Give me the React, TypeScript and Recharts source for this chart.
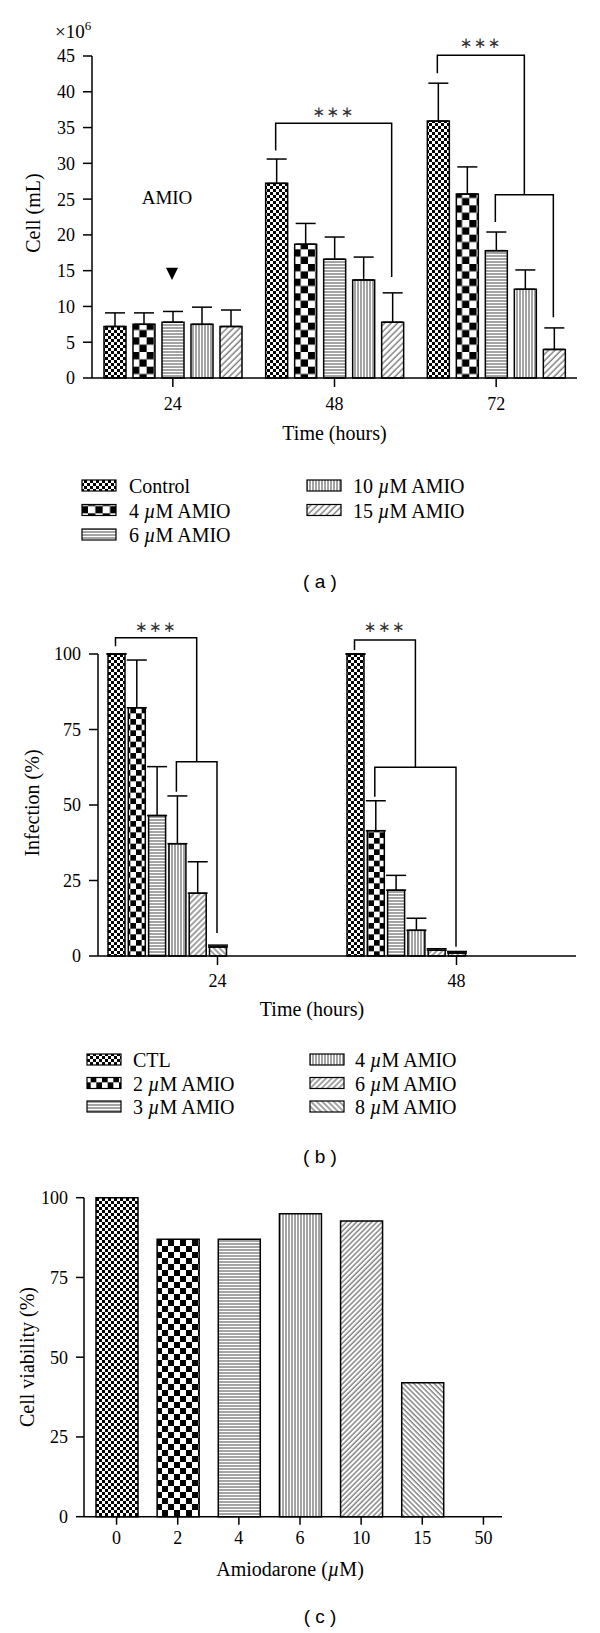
import React from 'react';
import { BarChart, Bar, XAxis, YAxis, ErrorBar, Cell } from 'recharts';

const SERIF = '"Liberation Serif", "Times New Roman", serif';
const SANS = '"Liberation Sans", Arial, sans-serif';
const STAR = '"DejaVu Sans", sans-serif';

// (a) cell density, x10^6 per mL
const timesA = ['24', '48', '72'];
const labelsA = ['Control', '4 µM AMIO', '6 µM AMIO', '10 µM AMIO', '15 µM AMIO'];
const controlA = [7.2, 27.2, 35.9];
const amio4A = [7.5, 18.7, 25.7];
const amio6A = [7.8, 16.6, 17.8];
const amio10A = [7.5, 13.7, 12.4];
const amio15A = [7.2, 7.8, 4.0];
const controlErrA = [1.9, 3.4, 5.3];
const amio4ErrA = [1.6, 2.9, 3.8];
const amio6ErrA = [1.5, 3.1, 2.6];
const amio10ErrA = [2.4, 3.2, 2.7];
const amio15ErrA = [2.3, 4.1, 3.0];
const ticksA = [0, 5, 10, 15, 20, 25, 30, 35, 40, 45];

// (b) infection %
const timesB = ['24', '48'];
const labelsB = ['CTL', '2 µM AMIO', '3 µM AMIO', '4 µM AMIO', '6 µM AMIO', '8 µM AMIO'];
const ctlB = [100, 100];
const amio2B = [82.2, 41.5];
const amio3B = [46.5, 21.8];
const amio4B = [37.2, 8.5];
const amio6B = [20.8, 1.9];
const amio8B = [3.0, 1.0];
const ctlErrB = [0, 0];
const amio2ErrB = [15.8, 9.9];
const amio3ErrB = [16.2, 4.9];
const amio4ErrB = [15.8, 4.0];
const amio6ErrB = [10.4, 0.5];
const amio8ErrB = [0.6, 0.5];
const ticksB = [0, 25, 50, 75, 100];

// (c) viability %
const dosesC = ['0', '2', '4', '6', '10', '15', '50'];
const viabilityC = [100, 87, 87, 95, 92.7, 42, 0];
const ticksC = [0, 25, 50, 75, 100];

const valuesA = [controlA, amio4A, amio6A, amio10A, amio15A];
const errorsA = [controlErrA, amio4ErrA, amio6ErrA, amio10ErrA, amio15ErrA];
const valuesB = [ctlB, amio2B, amio3B, amio4B, amio6B, amio8B];
const errorsB = [ctlErrB, amio2ErrB, amio3ErrB, amio4ErrB, amio6ErrB, amio8ErrB];

const rowsA = timesA.map((t, i) => {
  const r: any = { time: t };
  valuesA.forEach((v, k) => { r['s' + k] = v[i]; r['e' + k] = [0, errorsA[k][i]]; });
  return r;
});
const rowsB = timesB.map((t, i) => {
  const r: any = { time: t };
  valuesB.forEach((v, k) => { r['s' + k] = v[i]; r['e' + k] = [0, errorsB[k][i]]; });
  return r;
});
const rowsC = dosesC.map((d, i) => ({ dose: d, v: viabilityC[i] }));

const kindsA = ['fine', 'check', 'hl', 'vl', 'diag'];
const kindsB = ['fine', 'check', 'hl', 'vl', 'diag', 'back'];
const kindsC = ['fine', 'check', 'hl', 'vl', 'diag', 'back', 'back'];

type Cfg = {
  chartTop: number; chartH: number; top: number; left: number; width: number; height: number;
  yMax: number; nCats: number; nBars: number; barSize: number; barGap: number; padL: number; padR: number;
};

const cfgA: Cfg = { chartTop: 0, chartH: 450, top: 56, left: 92, width: 485, height: 322, yMax: 45, nCats: 3, nBars: 5, barSize: 22, barGap: 7, padL: 0, padR: 0 };
const cfgB: Cfg = { chartTop: 600, chartH: 400, top: 654, left: 98, width: 478, height: 302, yMax: 100, nCats: 2, nBars: 11, barSize: 17, barGap: 3.3, padL: 0, padR: 0 };
const cfgC: Cfg = { chartTop: 1180, chartH: 400, top: 1197.7, left: 84, width: 418, height: 319, yMax: 100, nCats: 7, nBars: 1, barSize: 42, barGap: 0, padL: 2, padR: -12 };

const Y_W = 60;
const X_H = 40;
const marginOf = (c: Cfg) => ({
  top: c.top - c.chartTop,
  left: c.left - Y_W,
  right: 600 - c.left - c.width,
  bottom: c.chartH - (c.top - c.chartTop + c.height) - X_H,
});

// page coords for overlay annotations, same geometry Recharts uses
const yPx = (c: Cfg, v: number) => c.top + c.height * (1 - v / c.yMax);
const barCx = (c: Cfg, g: number, j: number) => {
  const band = (c.width - c.padL - c.padR) / c.nCats;
  const sum = c.nBars * c.barSize + (c.nBars - 1) * c.barGap;
  const off = Math.trunc((band - sum) / 2);
  return c.left + c.padL + band * g + off + j * (c.barSize + c.barGap) + c.barSize / 2;
};

const Patterns = ({ p, check, diag }: { p: string; check: number; diag: number }) => (
  <defs>
    <pattern id={`${p}-fine`} width={6} height={6} patternUnits="userSpaceOnUse">
      <rect width={6} height={6} fill="#fff" />
      <rect width={3} height={3} fill="#000" />
      <rect x={3} y={3} width={3} height={3} fill="#000" />
    </pattern>
    <pattern id={`${p}-check`} width={check * 2} height={check * 2} patternUnits="userSpaceOnUse">
      <rect width={check * 2} height={check * 2} fill="#fff" />
      <rect width={check} height={check} fill="#000" />
      <rect x={check} y={check} width={check} height={check} fill="#000" />
    </pattern>
    <pattern id={`${p}-hl`} width={6} height={3} patternUnits="userSpaceOnUse">
      <rect width={6} height={3} fill="#fff" />
      <line x1={0} y1={1} x2={6} y2={1} stroke="#333" strokeWidth={0.9} />
    </pattern>
    <pattern id={`${p}-vl`} width={3} height={6} patternUnits="userSpaceOnUse">
      <rect width={3} height={6} fill="#fff" />
      <line x1={1} y1={0} x2={1} y2={6} stroke="#333" strokeWidth={0.9} />
    </pattern>
    <pattern id={`${p}-diag`} width={diag} height={diag} patternUnits="userSpaceOnUse" patternTransform="rotate(45)">
      <rect width={diag} height={diag} fill="#fff" />
      <line x1={1} y1={0} x2={1} y2={diag} stroke="#333" strokeWidth={0.9} />
    </pattern>
    <pattern id={`${p}-back`} width={diag} height={diag} patternUnits="userSpaceOnUse" patternTransform="rotate(-45)">
      <rect width={diag} height={diag} fill="#fff" />
      <line x1={1} y1={0} x2={1} y2={diag} stroke="#333" strokeWidth={0.9} />
    </pattern>
  </defs>
);

const axisLine = { stroke: '#000', strokeWidth: 1.5 };
const tickLine = { stroke: '#000', strokeWidth: 1.5 };
const tickFont = { fill: '#000', fontSize: 18, fontFamily: SERIF };

const MuText = ({ s }: { s: string }) => {
  const i = s.indexOf('µ');
  if (i < 0) return <>{s}</>;
  return (
    <>
      {s.slice(0, i)}
      <tspan fontStyle="italic">µ</tspan>
      {s.slice(i + 1)}
    </>
  );
};

type Br = {
  g: number; left: number; leftEnd: number; top: number; starY: number;
  right?: number; rightEnd?: number;
  sub?: { from: number; fromEnd: number; to: number; toEnd: number; y: number };
};

const bracketsA: Br[] = [
  { g: 1, left: 0, leftEnd: 31.8, top: 35.6, right: 4, rightEnd: 14.1, starY: 37.2 },
  { g: 2, left: 0, leftEnd: 42.6, top: 45.1, sub: { from: 2, fromEnd: 21.8, to: 4, toEnd: 8.5, y: 25.6 }, starY: 46.8 },
];
const bracketsB: Br[] = [
  { g: 0, left: 0, leftEnd: 102.6, top: 105.4, sub: { from: 3, fromEnd: 54.4, to: 5, toEnd: 7.6, y: 64.3 }, starY: 108.9 },
  { g: 1, left: 0, leftEnd: 101.3, top: 104.6, sub: { from: 1, fromEnd: 52.7, to: 5, toEnd: 3.1, y: 62.5 }, starY: 108.9 },
];

const Brackets = ({ c, list }: { c: Cfg; list: Br[] }) => (
  <g stroke="#000" strokeWidth={1.5} fill="none">
    {list.map((b, i) => {
      const xl = barCx(c, b.g, b.left);
      let xr: number;
      let yr: number;
      let subPath = '';
      if (b.sub) {
        const x1 = barCx(c, b.g, b.sub.from);
        const x2 = barCx(c, b.g, b.sub.to);
        xr = (x1 + x2) / 2;
        yr = yPx(c, b.sub.y);
        subPath = `M${x1},${yPx(c, b.sub.fromEnd)} V${yr} H${x2} V${yPx(c, b.sub.toEnd)}`;
      } else {
        xr = barCx(c, b.g, b.right as number);
        yr = yPx(c, b.rightEnd as number);
      }
      return (
        <g key={i}>
          <path d={`M${xl},${yPx(c, b.leftEnd)} V${yPx(c, b.top)} H${xr} V${yr}`} />
          {subPath && <path d={subPath} />}
          <text x={(xl + xr) / 2} y={yPx(c, b.starY)} textAnchor="middle" dominantBaseline="central"
            fontFamily={STAR} fontSize={15} letterSpacing={1.5} fill="#333" stroke="none">
            ∗∗∗
          </text>
        </g>
      );
    })}
  </g>
);

const LegendCol = ({ p, kinds, labels, idx, sx, tx, rows }: any) => (
  <g>
    {idx.map((k: number, r: number) => (
      <g key={k}>
        <rect x={sx} y={rows[r] - 13} width={34} height={11} fill={`url(#${p}-${kinds[k]})`} stroke="#000" strokeWidth={1.2} />
        <text x={tx} y={rows[r]} fontFamily={SERIF} fontSize={20} fill="#000">
          <MuText s={labels[k]} />
        </text>
      </g>
    ))}
  </g>
);

const Overlay = () => {
  const amioX = barCx(cfgA, 0, 2);
  return (
    <svg width={600} height={1633} style={{ position: 'absolute', left: 0, top: 0, pointerEvents: 'none' }}>
      {/* (a) */}
      <text x={55} y={38} fontFamily={SERIF} fontSize={19} fill="#000">×10<tspan dy={-8} fontSize={13}>6</tspan></text>
      <text x={33} y={213} transform="rotate(-90 33 213)" textAnchor="middle" dominantBaseline="central" fontFamily={SERIF} fontSize={20}>Cell (mL)</text>
      <text x={cfgA.left + cfgA.width / 2} y={440} textAnchor="middle" fontFamily={SERIF} fontSize={20}>Time (hours)</text>
      <text x={amioX - 5} y={yPx(cfgA, 24.3)} textAnchor="middle" fontFamily={SERIF} fontSize={19}>AMIO</text>
      <polygon
        points={`${amioX - 6},${yPx(cfgA, 15.4)} ${amioX + 6},${yPx(cfgA, 15.4)} ${amioX},${yPx(cfgA, 13.7)}`}
        fill="#000"
      />
      <Brackets c={cfgA} list={bracketsA} />
      <LegendCol p="a" kinds={kindsA} labels={labelsA} idx={[0, 1, 2]} sx={82} tx={129} rows={[493, 517.5, 542]} />
      <LegendCol p="a" kinds={kindsA} labels={labelsA} idx={[3, 4]} sx={307} tx={353} rows={[493, 517.5]} />
      <text x={320} y={588} textAnchor="middle" fontFamily={SANS} fontSize={19}>( a )</text>

      {/* (b) */}
      <text x={32} y={803} transform="rotate(-90 32 803)" textAnchor="middle" dominantBaseline="central" fontFamily={SERIF} fontSize={20}>Infection (%)</text>
      <text x={312} y={1016} textAnchor="middle" fontFamily={SERIF} fontSize={20}>Time (hours)</text>
      <Brackets c={cfgB} list={bracketsB} />
      <LegendCol p="b" kinds={kindsB} labels={labelsB} idx={[0, 1, 2]} sx={87} tx={133} rows={[1067, 1090.5, 1114]} />
      <LegendCol p="b" kinds={kindsB} labels={labelsB} idx={[3, 4, 5]} sx={310} tx={355} rows={[1067, 1090.5, 1114]} />
      <text x={320} y={1163} textAnchor="middle" fontFamily={SANS} fontSize={19}>( b )</text>

      {/* (c) */}
      <text x={27} y={1357} transform="rotate(-90 27 1357)" textAnchor="middle" dominantBaseline="central" fontFamily={SERIF} fontSize={20}>Cell viability (%)</text>
      <text x={290} y={1576} textAnchor="middle" fontFamily={SERIF} fontSize={20}>
        Amiodarone (<tspan fontStyle="italic">µ</tspan>M)
      </text>
      <text x={320} y={1623} textAnchor="middle" fontFamily={SANS} fontSize={19}>( c )</text>
    </svg>
  );
};

const pads = [0, 1, 2, 3, 4];

export default function App() {
  return (
    <div style={{ position: 'absolute', left: 0, top: 0, width: 600, height: 1633, background: '#fff' }}>
      <div style={{ position: 'absolute', left: 0, top: cfgA.chartTop }}>
        <BarChart width={600} height={cfgA.chartH} data={rowsA} margin={marginOf(cfgA)} barSize={cfgA.barSize} barGap={cfgA.barGap}>
          <Patterns p="a" check={22 / 3} diag={4.5} />
          <XAxis dataKey="time" axisLine={axisLine} tickLine={tickLine} tickSize={9} tickMargin={10} height={X_H} tick={tickFont} />
          <YAxis domain={[0, 45]} ticks={ticksA} axisLine={axisLine} tickLine={tickLine} tickSize={9} tickMargin={8} width={Y_W} tick={tickFont} />
          {labelsA.map((name, k) => (
            <Bar key={name} dataKey={'s' + k} name={name} fill={`url(#a-${kindsA[k]})`} stroke="#000" strokeWidth={1.5} isAnimationActive={false}>
              <ErrorBar dataKey={'e' + k} width={10} stroke="#000" strokeWidth={1.5} isAnimationActive={false} />
            </Bar>
          ))}
        </BarChart>
      </div>

      <div style={{ position: 'absolute', left: 0, top: cfgB.chartTop }}>
        <BarChart width={600} height={cfgB.chartH} data={rowsB} margin={marginOf(cfgB)} barSize={cfgB.barSize} barGap={cfgB.barGap}>
          <Patterns p="b" check={17 / 3} diag={4} />
          <XAxis dataKey="time" axisLine={axisLine} tickLine={tickLine} tickSize={9} tickMargin={9} height={X_H} tick={tickFont} />
          <YAxis domain={[0, 100]} ticks={ticksB} axisLine={axisLine} tickLine={tickLine} tickSize={9} tickMargin={8} width={Y_W} tick={tickFont} />
          {labelsB.map((name, k) => (
            <Bar key={name} dataKey={'s' + k} name={name} fill={`url(#b-${kindsB[k]})`} stroke="#000" strokeWidth={1.5} isAnimationActive={false}>
              <ErrorBar dataKey={'e' + k} width={10} stroke="#000" strokeWidth={1.5} isAnimationActive={false} />
            </Bar>
          ))}
          {/* empty slots so the ticks fall under the last bar, as in the original layout */}
          {pads.map((k) => (
            <Bar key={'pad' + k} dataKey={'pad' + k} fill="none" legendType="none" isAnimationActive={false} />
          ))}
        </BarChart>
      </div>

      <div style={{ position: 'absolute', left: 0, top: cfgC.chartTop }}>
        <BarChart width={600} height={cfgC.chartH} data={rowsC} margin={marginOf(cfgC)} barSize={cfgC.barSize}>
          <Patterns p="c" check={6} diag={3.6} />
          <XAxis dataKey="dose" padding={{ left: cfgC.padL, right: cfgC.padR }} axisLine={axisLine} tickLine={tickLine} tickSize={8} tickMargin={7} height={X_H} tick={tickFont} />
          <YAxis domain={[0, 100]} ticks={ticksC} axisLine={axisLine} tickLine={tickLine} tickSize={8} tickMargin={8} width={Y_W} tick={tickFont} />
          <Bar dataKey="v" stroke="#000" strokeWidth={1.5} isAnimationActive={false}>
            {rowsC.map((r, i) => (
              <Cell key={r.dose} fill={`url(#c-${kindsC[i]})`} />
            ))}
          </Bar>
        </BarChart>
      </div>

      <Overlay />
    </div>
  );
}
